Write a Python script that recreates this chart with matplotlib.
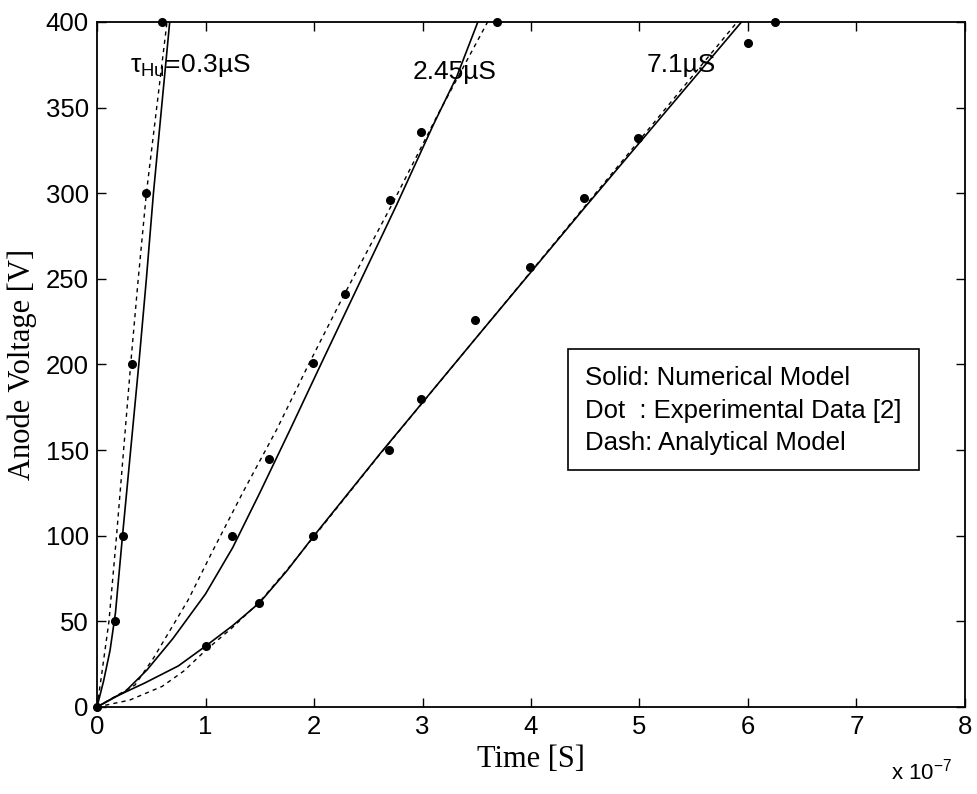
import matplotlib
matplotlib.use("Agg")
import matplotlib.pyplot as plt
from matplotlib.patches import Rectangle

plt.rcParams["font.family"] = ["Liberation Sans", "DejaVu Sans"]
plt.rcParams["mathtext.fontset"] = "custom"
plt.rcParams["mathtext.rm"] = "Liberation Sans"
plt.rcParams["mathtext.it"] = "Liberation Sans"

# time in units of 1e-7 s, voltage in V
# tau = 0.3 uS
solid_03_t = [0, 0.06, 0.12, 0.17, 0.235, 0.31, 0.385, 0.455, 0.52, 0.595, 0.67]
solid_03_v = [0, 15, 33, 55, 100, 150, 200, 250, 300, 350, 400]
dash_03_t = [0, 0.045, 0.11, 0.18, 0.245, 0.31, 0.38, 0.455, 0.55, 0.645]
dash_03_v = [0, 20, 50, 100, 150, 200, 250, 300, 350, 400]
dots_03_t = [0, 0.166, 0.243, 0.32, 0.45, 0.596]
dots_03_v = [0, 50, 100, 200, 300, 400]

# tau = 2.45 uS
solid_245_t = [0, 0.26, 0.46, 0.7, 1.0, 1.25, 1.5, 1.78, 2.07, 2.4, 2.76, 3.1, 3.315, 3.51]
solid_245_v = [0, 9, 21.6, 40, 66, 93, 125, 162, 201, 245, 293, 340, 368, 400]
dash_245_t = [0, 0.35, 0.519, 0.84, 1.057, 1.35, 1.656, 1.95, 2.255, 2.74, 3.15, 3.6]
dash_245_v = [0, 12.8, 28.4, 62.5, 90, 126, 162, 200, 238, 296, 347, 400]
dots_245_t = [1.244, 1.588, 1.994, 2.286, 2.70, 2.99, 3.687]
dots_245_v = [100, 145, 200.7, 241, 296, 336, 400]

# tau = 7.1 uS
solid_71_t = [0, 0.17, 0.44, 0.75, 1.0, 1.25, 1.5, 1.75, 2.0, 2.61, 3.5, 4.5, 5.5, 5.94]
solid_71_v = [0, 6, 14, 24, 35.5, 47.5, 61, 79.5, 100, 148, 216, 292, 367, 400]
dash_71_t = [0, 0.3, 0.6, 0.8, 1.0, 1.25, 1.5, 1.75, 2.0, 2.6, 5.9]
dash_71_v = [0, 4, 12, 21, 33, 46.5, 61.5, 80, 99.5, 147, 400]
dots_71_t = [1.0, 1.49, 1.99, 2.69, 2.99, 3.48, 3.99, 4.49, 4.99, 6.0, 6.25]
dots_71_v = [35.6, 61, 100, 150, 180, 226, 257, 297, 332, 388, 400]

x_ticks = [0, 1, 2, 3, 4, 5, 6, 7, 8]
y_ticks = [0, 50, 100, 150, 200, 250, 300, 350, 400]
legend_lines = ["Solid: Numerical Model", "Dot  : Experimental Data [2]", "Dash: Analytical Model"]

fig = plt.figure(figsize=(9.77, 7.94), dpi=100)
ax = fig.add_axes([0.0993, 0.1096, 0.8884, 0.8627])

curves = [
    (solid_03_t, solid_03_v, dash_03_t, dash_03_v, dots_03_t, dots_03_v),
    (solid_245_t, solid_245_v, dash_245_t, dash_245_v, dots_245_t, dots_245_v),
    (solid_71_t, solid_71_v, dash_71_t, dash_71_v, dots_71_t, dots_71_v),
]
for st, sv, dt, dv, pt, pv in curves:
    ax.plot(st, sv, color="black", lw=1.2)
    ax.plot(dt, dv, color="black", lw=1.0, linestyle=(0, (3, 3)))
    ax.plot(pt, pv, "o", color="black", ms=5.5, clip_on=False, zorder=5)

ax.set_xlim(0, 8)
ax.set_ylim(0, 400)
ax.set_xticks(x_ticks)
ax.set_yticks(y_ticks)
ax.tick_params(direction="in", top=True, right=True, length=6.5, width=1,
               labelsize=18.5, pad=6)
for s in ax.spines.values():
    s.set_linewidth(1.3)

ax.set_xlabel("Time [S]", family="Liberation Serif", fontsize=22, labelpad=4)
ax.set_ylabel("Anode Voltage [V]", family="Liberation Serif", fontsize=22, labelpad=6)
fig.text(0.975, 0.018, r"x 10$^{-7}$", ha="right", va="baseline", fontsize=16)

ax.text(0.30, 371, r"τ$_{\mathrm{Hu}}$=0.3µS", fontsize=19, va="baseline")
ax.text(2.91, 367, "2.45µS", fontsize=19, va="baseline")
ax.text(5.07, 371, "7.1µS", fontsize=19, va="baseline")

ax.add_patch(Rectangle((0.5426, 0.346), 0.4044, 0.1766, transform=ax.transAxes,
                       facecolor="white", edgecolor="black", lw=1.2, zorder=6))
for i, line in enumerate(legend_lines):
    ax.text(0.5622, 0.470 - i * 0.0475, line, transform=ax.transAxes,
            fontsize=18.5, va="baseline", zorder=7)

fig.savefig("out.png", dpi=100)
